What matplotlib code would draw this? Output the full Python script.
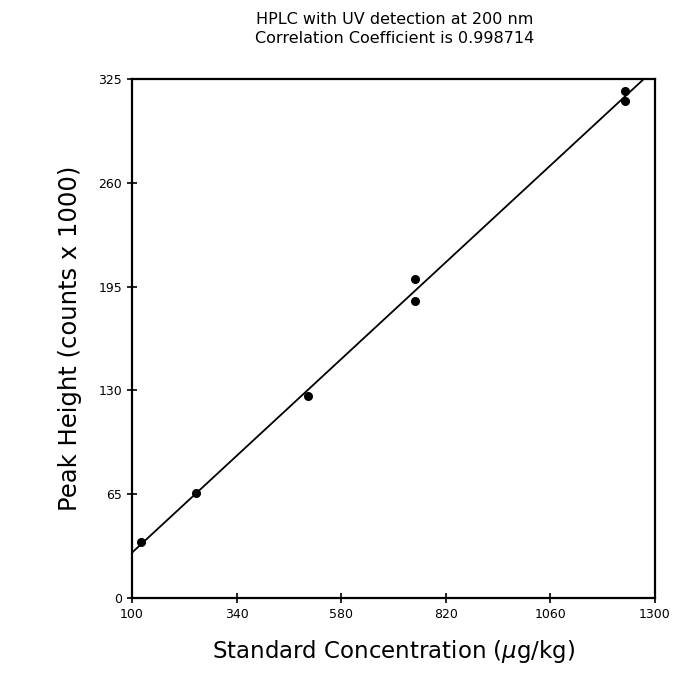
import numpy as np
import matplotlib.pyplot as plt

# standard concentration (ug/kg) vs peak height (counts x 1000)
conc = [120, 246, 504, 749, 749, 1231, 1231]
height = [35.0, 66.0, 126.5, 200.0, 186.0, 317.5, 311.0]

x_ticks = [100, 340, 580, 820, 1060, 1300]
y_ticks = [0, 65, 130, 195, 260, 325]

title = "HPLC with UV detection at 200 nm\nCorrelation Coefficient is 0.998714"


def main():
    fig = plt.figure(figsize=(6.77, 6.86), dpi=100)
    ax = fig.add_axes([0.195, 0.128, 0.7725, 0.757])

    # least squares line through the standards
    slope, icpt = np.polyfit(conc, height, 1)
    xs = np.array([100, 1300])
    ax.plot(xs, slope * xs + icpt, color="black", lw=1.3)

    ax.plot(conc, height, "o", color="black", ms=5.5)

    ax.set_xlim(100, 1300)
    ax.set_ylim(0, 325)
    ax.set_xticks(x_ticks)
    ax.set_yticks(y_ticks)
    ax.tick_params(direction="inout", length=7, width=1.2, labelsize=9)
    for s in ax.spines.values():
        s.set_linewidth(1.6)

    ax.set_xlabel("Standard Concentration ($\\mu$g/kg)", fontsize=16.5, labelpad=12)
    ax.set_ylabel("Peak Height (counts x 1000)", fontsize=17.5, labelpad=12)
    fig.text(0.583, 0.958, title, ha="center", va="center", fontsize=11.5,
             linespacing=1.35)

    fig.savefig("out.png", dpi=100)


if __name__ == "__main__":
    main()
